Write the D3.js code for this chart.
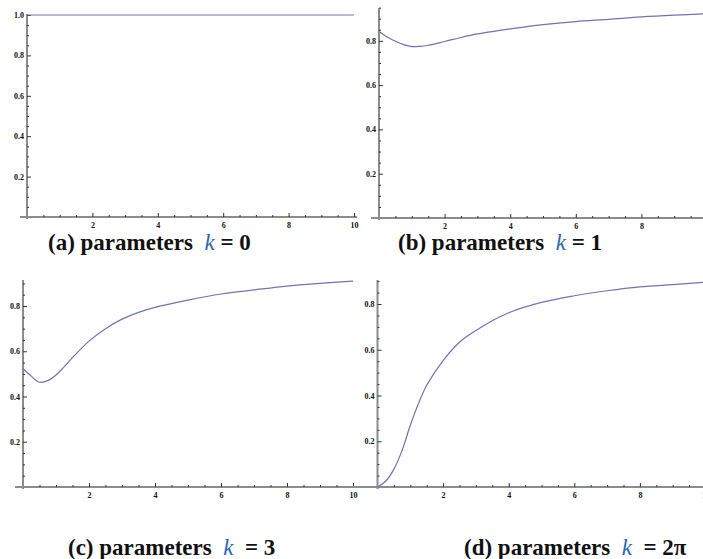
<!DOCTYPE html>
<html>
<head>
<meta charset="utf-8">
<script src="https://cdn.jsdelivr.net/npm/d3@7"></script>
<style>
  body { margin: 0; background: #fff; }
  svg { display: block; }
</style>
</head>
<body>
<div id="target"></div>
<script>
// sample points along x
const xVals = [0, 0.25, 0.5, 0.75, 1, 1.25, 1.5, 2, 2.5, 3, 3.5, 4, 5, 6, 7, 8, 9, 10]

const seriesA = [1, 1, 1, 1, 1, 1, 1, 1, 1, 1, 1, 1, 1, 1, 1, 1, 1, 1]
const seriesB = [0.842, 0.817, 0.798, 0.783, 0.774, 0.775, 0.78, 0.797, 0.815, 0.831, 0.843, 0.854, 0.873, 0.887, 0.897, 0.908, 0.916, 0.922]
const seriesC = [0.524, 0.49, 0.463, 0.47, 0.495, 0.532, 0.572, 0.645, 0.7, 0.742, 0.772, 0.794, 0.826, 0.853, 0.871, 0.888, 0.9, 0.91]
const seriesD = [0, 0.025, 0.078, 0.16, 0.27, 0.365, 0.445, 0.553, 0.633, 0.684, 0.727, 0.762, 0.807, 0.836, 0.858, 0.875, 0.885, 0.895]

const xTicks = [2, 4, 6, 8, 10]
const yTicks = [0.2, 0.4, 0.6, 0.8, 1.0]
const captionLabels = ['(a)', '(b)', '(c)', '(d)']
const kValues = ['= 0', '= 1', ' = 3', ' = 2π']

const width = 703, height = 559
const colors = { line: '#7272b8', axis: '#8c8c8c', tick: '#333', k: '#2f63b4' }
const serif = "'Liberation Serif', serif"

const svg = d3.select('#target').append('svg')
    .attr('width', width)
    .attr('height', height)

// panel geometry: x0/x10 pixel of x=0/10, y0 pixel of y=0, yTop pixel of yMax
const panels = [
    { data: seriesA, x0: 27, x10: 354, y0: 217, yTop: 15, yMax: 1.0, axisTop: 14, xLeft: 20, xRight: 357, capX: 48, capY: 250 },
    { data: seriesB, x0: 379, x10: 707, y0: 218, yTop: 7.6, yMax: 0.95, axisTop: 8, xLeft: 371, xRight: 710, capX: 398, capY: 250 },
    { data: seriesC, x0: 23, x10: 353, y0: 487, yTop: 280, yMax: 0.915, axisTop: 280, xLeft: 15, xRight: 358, capX: 68, capY: 555 },
    { data: seriesD, x0: 377.5, x10: 705.5, y0: 487, yTop: 280, yMax: 0.905, axisTop: 280, xLeft: 350, xRight: 710, capX: 464, capY: 555 }
]

const styleTicks = a => {
    a.select('.domain').remove()
    a.attr('font-family', null).attr('font-size', null)
    a.selectAll('line').attr('stroke', colors.tick)
    a.selectAll('text')
        .attr('fill', '#111')
        .style('font-family', serif)
        .style('font-size', '8px')
        .style('font-weight', 'bold')
}

panels.forEach((p, i) => {
    const g = svg.append('g')

    const x = d3.scaleLinear().domain([0, 10]).range([p.x0, p.x10])
    const y = d3.scaleLinear().domain([0, p.yMax]).range([p.y0, p.yTop])

    //axis lines
    g.append('line')
        .attr('x1', p.xLeft).attr('x2', p.xRight)
        .attr('y1', p.y0).attr('y2', p.y0)
        .attr('stroke', colors.axis).attr('stroke-width', 2)
    g.append('line')
        .attr('x1', p.x0).attr('x2', p.x0)
        .attr('y1', p.axisTop).attr('y2', p.y0 + 2)
        .attr('stroke', colors.axis).attr('stroke-width', 2)

    //minor ticks
    const xMinor = d3.range(0.5, 10.01, 0.5).filter(v => v % 2 !== 0)
    g.append('g')
        .attr('transform', `translate(0,${p.y0})`)
        .call(d3.axisBottom(x).tickValues(xMinor).tickSize(-2).tickFormat(''))
        .call(styleTicks)

    const yMinor = d3.range(0.05, p.yMax + 0.001, 0.05).filter(v => Math.abs(v * 5 - Math.round(v * 5)) > 0.01)
    g.append('g')
        .attr('transform', `translate(${p.x0},0)`)
        .call(d3.axisLeft(y).tickValues(yMinor).tickSize(-2).tickFormat(''))
        .call(styleTicks)

    //major ticks
    g.append('g')
        .attr('transform', `translate(0,${p.y0})`)
        .call(d3.axisBottom(x).tickValues(xTicks).tickSize(-4).tickPadding(5).tickFormat(d3.format('d')))
        .call(styleTicks)

    g.append('g')
        .attr('transform', `translate(${p.x0},0)`)
        .call(d3.axisLeft(y).tickValues(yTicks.filter(v => v <= p.yMax + 1e-9)).tickSize(-4).tickPadding(3).tickFormat(d3.format('.1f')))
        .call(styleTicks)

    //curve
    const line = d3.line()
        .x((d, j) => x(xVals[j]))
        .y(d => y(d))
        .curve(d3.curveCatmullRom.alpha(0.5))

    g.append('path')
        .attr('d', line(p.data))
        .attr('fill', 'none')
        .attr('stroke', colors.line)
        .attr('stroke-width', 1.2)

    //caption
    const cap = g.append('text')
        .style('font-family', serif)
        .style('font-size', '23px')
        .attr('fill', '#111')
        .attr('x', p.capX)
        .attr('y', p.capY)
    cap.append('tspan').style('font-weight', 'bold').text(captionLabels[i] + ' parameters\u00a0\u00a0')
    cap.append('tspan').style('font-style', 'italic').attr('fill', colors.k).text('k')
    cap.append('tspan').style('font-weight', 'bold').text('\u00a0' + kValues[i].replace(' ', '\u00a0'))
})
</script>
</body>
</html>
